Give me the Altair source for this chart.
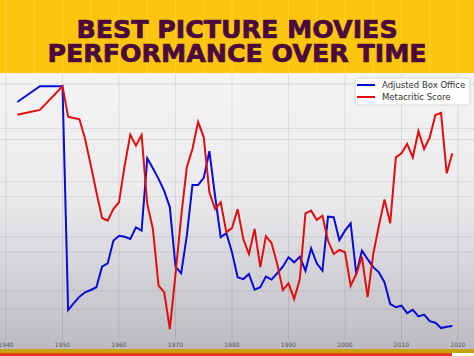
import altair as alt
import pandas as pd

# ---------------- data ----------------
series_names = ["Adjusted Box Office", "Metacritic Score"]
series_colors = ["#0a0ad6", "#e00f0f"]

box_years = [1942, 1946, 1950, 1951, 1952, 1953, 1954, 1955, 1956, 1957, 1958, 1959,
             1960, 1961, 1962, 1963, 1964, 1965, 1966, 1967, 1968, 1969, 1970, 1971,
             1972, 1973, 1974, 1975, 1976, 1977, 1978, 1979, 1980, 1981, 1982, 1983,
             1984, 1985, 1986, 1987, 1988, 1989, 1990, 1991, 1992, 1993, 1994, 1995,
             1996, 1997, 1998, 1999, 2000, 2001, 2002, 2003, 2004, 2005, 2006, 2007,
             2008, 2009, 2010, 2011, 2012, 2013, 2014, 2015, 2016, 2017, 2018, 2019]
box_values = [93.8, 100.0, 100.0, 11.8, 14.5, 17.1, 18.8, 19.7, 20.8, 28.9, 30.2, 39.1,
              41.1, 40.7, 39.8, 44.4, 43.1, 71.6, 67.7, 63.5, 58.8, 52.3, 28.9, 26.3,
              41.0, 61.1, 61.1, 63.9, 74.4, 56.8, 40.5, 42.1, 34.6, 24.7, 24.0, 26.0,
              19.8, 20.8, 25.0, 23.8, 26.3, 28.9, 32.6, 30.6, 32.8, 27.3, 36.1, 30.2,
              27.3, 48.6, 48.4, 39.4, 43.1, 46.0, 26.0, 35.2, 31.9, 28.7, 26.7, 22.7,
              14.2, 12.9, 13.5, 10.6, 11.9, 9.3, 10.0, 7.4, 6.8, 4.7, 5.2, 5.5]

meta_years = [1942, 1946, 1950, 1951, 1952, 1953, 1954, 1955, 1956, 1957, 1958, 1959,
              1960, 1961, 1962, 1963, 1964, 1965, 1966, 1967, 1968, 1969, 1970, 1971,
              1972, 1973, 1974, 1975, 1976, 1977, 1978, 1979, 1980, 1981, 1982, 1983,
              1984, 1985, 1986, 1987, 1988, 1989, 1990, 1991, 1992, 1993, 1994, 1995,
              1996, 1997, 1998, 1999, 2000, 2001, 2002, 2003, 2004, 2005, 2006, 2007,
              2008, 2009, 2010, 2011, 2012, 2013, 2014, 2015, 2016, 2017, 2018, 2019]
meta_values = [88.8, 90.7, 100.0, 88.0, 87.5, 87.0, 79.2, 69.0, 58.3, 48.1, 47.0, 51.6,
               54.3, 68.7, 80.9, 76.6, 80.8, 53.6, 43.8, 21.4, 18.8, 4.3, 26.0, 48.4,
               68.1, 75.3, 86.0, 79.9, 58.2, 51.6, 54.3, 42.5, 44.1, 51.6, 39.8, 33.9,
               43.8, 28.7, 40.9, 38.2, 30.0, 19.7, 22.3, 16.2, 24.0, 49.9, 51.0, 47.3,
               49.0, 39.1, 33.9, 35.5, 34.6, 21.4, 26.0, 32.8, 16.9, 33.9, 45.1, 55.4,
               46.0, 72.0, 73.6, 77.3, 72.0, 82.3, 75.3, 79.9, 88.7, 89.5, 65.7, 73.6]

x_ticks = [1940, 1950, 1960, 1970, 1980, 1990, 2000, 2010, 2020]
banner_grid_years = [1935, 1945, 1955, 1965, 1975, 1985, 1995, 2005, 2015, 2025]
grid_a = [100.9, 79.0, 56.5, 34.6, 12.2]
grid_b = [83.4, 62.4, 40.7, 19.4]
title_lines = ["BEST PICTURE MOVIES", "PERFORMANCE OVER TIME"]

# ---------------- tables ----------------
long_df = pd.concat([
    pd.DataFrame({"year": box_years, "value": box_values, "series": series_names[0]}),
    pd.DataFrame({"year": meta_years, "value": meta_values, "series": series_names[1]}),
])
one = pd.DataFrame({"a": [0]})

W, H = 474, 356
xs = alt.Scale(domain=[1940, 2020], range=[6, 458])
ys = alt.Scale(domain=[0, 100], range=[340, 86.3])

bg = alt.Chart(one).mark_rect(
    color=alt.Gradient(
        gradient="linear",
        stops=[alt.GradientStop(color="#f4f4f6", offset=0),
               alt.GradientStop(color="#ebebee", offset=0.45),
               alt.GradientStop(color="#bbbbc0", offset=1)],
        x1=0, x2=0, y1=0, y2=1)
).encode(x=alt.value(0), x2=alt.value(W), y=alt.value(73), y2=alt.value(349))

banner = alt.Chart(one).mark_rect(color="#fec50f").encode(
    x=alt.value(0), x2=alt.value(W), y=alt.value(0), y2=alt.value(73))

banner_v = alt.Chart(pd.DataFrame({"year": x_ticks + banner_grid_years})).mark_rule(
    color="#ffd640", strokeWidth=1, opacity=0.7
).encode(x=alt.X("year:Q", scale=xs, axis=None), y=alt.value(0), y2=alt.value(73))

vgrid = alt.Chart(pd.DataFrame({"year": x_ticks})).mark_rule(
    color="#000000", opacity=0.09, strokeWidth=1
).encode(x=alt.X("year:Q", scale=xs, axis=None), y=alt.value(74), y2=alt.value(340))

hgrid = alt.Chart(pd.DataFrame({"v": grid_a + grid_b})).mark_rule(
    color="#000000", opacity=0.09, strokeWidth=1
).encode(y=alt.Y("v:Q", scale=ys, axis=None), x=alt.value(0), x2=alt.value(W))

lines = alt.Chart(long_df).mark_line(strokeWidth=2).encode(
    x=alt.X("year:Q", scale=xs, axis=None),
    y=alt.Y("value:Q", scale=ys, axis=None),
    color=alt.Color("series:N",
                    scale=alt.Scale(domain=series_names, range=series_colors),
                    legend=None),
    detail="series:N",
)

xlabels = alt.Chart(pd.DataFrame({"year": x_ticks})).mark_text(
    font="DejaVu Sans", fontSize=6, color="#555555", baseline="middle", align="center"
).encode(x=alt.X("year:Q", scale=xs, axis=None), y=alt.value(345),
         text=alt.Text("year:Q", format="d"))

strip_gold = alt.Chart(one).mark_rect(color="#c9a20a").encode(
    x=alt.value(0), x2=alt.value(W), y=alt.value(349), y2=alt.value(353))
strip_red = alt.Chart(one).mark_rect(color="#ee3a1e").encode(
    x=alt.value(0), x2=alt.value(452), y=alt.value(353), y2=alt.value(356))

title = alt.Chart(pd.DataFrame({"t": ["\n".join(title_lines)]})).mark_text(
    font="DejaVu Sans", fontWeight="bold", fontSize=25.3, color="#4b0a3e",
    stroke="#4b0a3e", strokeWidth=0.7, align="center", baseline="middle",
    lineBreak="\n", lineHeight=24.5
).encode(x=alt.value(237), y=alt.value(29.5), text="t:N")

# legend (drawn from the series arrays)
legend_box = alt.Chart(one).mark_rect(
    fill="#ffffff", fillOpacity=0.85, stroke="#d6d6d6", strokeWidth=1, cornerRadius=3
).encode(x=alt.value(355), x2=alt.value(470), y=alt.value(78), y2=alt.value(105))
legend_layers = [legend_box]
for i, (name, col) in enumerate(zip(series_names, series_colors)):
    yy = 85 + 12 * i
    legend_layers.append(
        alt.Chart(one).mark_rule(color=col, strokeWidth=2).encode(
            x=alt.value(357), x2=alt.value(375), y=alt.value(yy)))
    legend_layers.append(
        alt.Chart(pd.DataFrame({"t": [name]})).mark_text(
            font="DejaVu Sans", fontSize=8.5, color="#333333", align="left",
            baseline="middle").encode(x=alt.value(382), y=alt.value(yy), text="t:N"))

chart = alt.layer(
    bg, banner, banner_v, vgrid, hgrid, lines, xlabels, strip_gold, strip_red,
    title, *legend_layers
).properties(
    width=W, height=H, padding=0, autosize="none"
).configure_view(stroke=None).configure(background="#ffffff")

chart.save("out.html", embed_options={"renderer": "svg", "actions": False})
